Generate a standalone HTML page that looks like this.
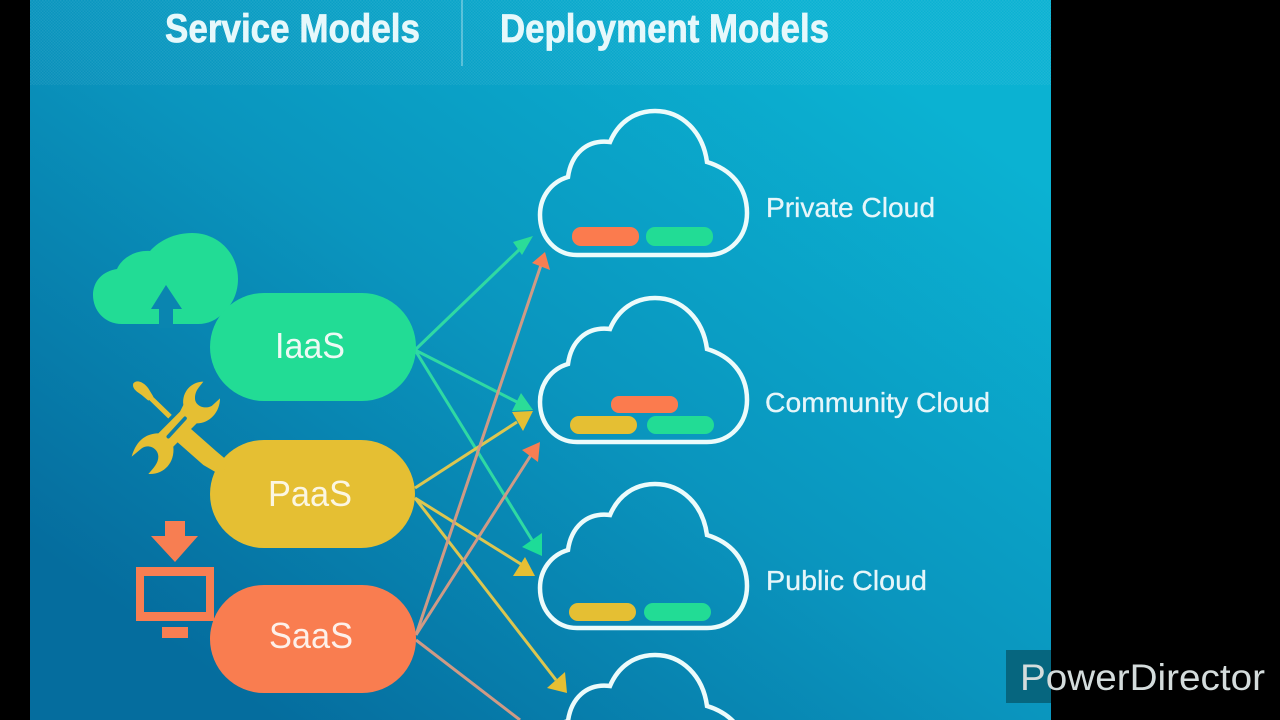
<!DOCTYPE html>
<html>
<head>
<meta charset="utf-8">
<style>
html,body{margin:0;padding:0;background:#000;width:1280px;height:720px;overflow:hidden}
svg{display:block}
text{font-family:"Liberation Sans",sans-serif}
</style>
</head>
<body>
<svg width="1280" height="720" viewBox="0 0 1280 720">
<defs>
<linearGradient id="bg" gradientUnits="userSpaceOnUse" x1="850" y1="40" x2="330" y2="760">
<stop offset="0" stop-color="#0bb2d2"/>
<stop offset="0.5" stop-color="#0a95be"/>
<stop offset="1" stop-color="#056d9e"/>
</linearGradient>
<pattern id="dots" width="3" height="3" patternUnits="userSpaceOnUse">
<rect width="1.5" height="1.5" fill="#fff" opacity="0.07"/>
<rect x="1.5" y="1.5" width="1.5" height="1.5" fill="#fff" opacity="0.07"/>
</pattern>
<path id="c" d="M577 255H707C731 255 747 236 747 213C747 186 730 169 707 162C703 132 682 111 655 111C634 111 618 123 610 142C586 139 571 155 568 177C551 182 540 197 540 215C540 238 556 255 577 255Z" fill="none" stroke="#ecfbfb" stroke-width="4.5"/>
</defs>
<rect x="30" y="0" width="1021" height="720" fill="url(#bg)"/>
<rect x="30" y="0" width="1021" height="85" fill="url(#dots)"/>
<rect x="461" y="0" width="2" height="66" fill="#fff" opacity="0.3"/>
<text x="165" y="42" font-size="40" font-weight="700" fill="#e6f8fb" stroke="#e6f8fb" stroke-width="0.7" textLength="255" lengthAdjust="spacingAndGlyphs">Service Models</text>
<text x="500" y="42" font-size="40" font-weight="700" fill="#e6f8fb" stroke="#e6f8fb" stroke-width="0.7" textLength="329" lengthAdjust="spacingAndGlyphs">Deployment Models</text>

<use href="#c"/>
<use href="#c" y="187"/>
<use href="#c" y="373"/>
<use href="#c" y="544"/>

<rect x="572" y="227" width="67" height="19" rx="9" fill="#fb7b4e"/>
<rect x="646" y="227" width="67" height="19" rx="9" fill="#22dc95"/>
<rect x="611" y="396" width="67" height="17" rx="8" fill="#fb7b4e"/>
<rect x="570" y="416" width="67" height="18" rx="9" fill="#e5bf33"/>
<rect x="647" y="416" width="67" height="18" rx="9" fill="#22dc95"/>
<rect x="569" y="603" width="67" height="18" rx="9" fill="#e5bf33"/>
<rect x="644" y="603" width="67" height="18" rx="9" fill="#22dc95"/>

<text x="766" y="217" font-size="28" fill="#e6f6fa" stroke="#e6f6fa" stroke-width="0.3" textLength="169" lengthAdjust="spacingAndGlyphs">Private Cloud</text>
<text x="765" y="412" font-size="28" fill="#e6f6fa" stroke="#e6f6fa" stroke-width="0.3" textLength="225" lengthAdjust="spacingAndGlyphs">Community Cloud</text>
<text x="766" y="590" font-size="28" fill="#e6f6fa" stroke="#e6f6fa" stroke-width="0.3" textLength="161" lengthAdjust="spacingAndGlyphs">Public Cloud</text>

<!-- connectors -->
<g fill="none" stroke-width="3">
<g stroke="#2fd9a3">
<path d="M415 350L522 247"/>
<path d="M415 350L517 402"/>
<path d="M415 350L532 540"/>
</g>
<g stroke="#dcc650">
<path d="M415 488L517 422"/>
<path d="M415 498L524 566"/>
<path d="M415 498L556 680"/>
</g>
<g stroke="#cf9a85">
<path d="M416 635L541 265"/>
<path d="M416 635L531 455"/>
<path d="M416 640L520 720"/>
</g>
</g>
<path d="M533 236L513 242L522 255Z" fill="#2bdc98"/>
<path d="M521 393L533 410L512 411Z" fill="#2bdc98"/>
<path d="M542 533L522 547L542 556Z" fill="#1ddc98"/>
<path d="M512 412L533 411L523 431Z" fill="#e5bf33"/>
<path d="M525 557L513 576L535 576Z" fill="#e5bf33"/>
<path d="M565 672L547 688L567 693Z" fill="#e5bf33"/>
<path d="M545 252L532 263L550 270Z" fill="#f77e52"/>
<path d="M540 442L522 450L538 462Z" fill="#f77e52"/>

<!-- IaaS icon -->
<path d="M122 324C104 324 93 310 93 295C93 281 103 271 117 269C122 258 135 250 150 251C160 240 175 233 192 233C218 233 238 253 238 279C238 292 233 304 224 312C217 320 208 324 198 324Z" fill="#22dc95"/>
<path d="M159 328V309H151L166 285L182 309H173V328Z" fill="#0a85b0"/>

<!-- pills -->
<rect x="210" y="293" width="206" height="108" rx="54" fill="#22dc95"/>
<rect x="210" y="440" width="205" height="108" rx="54" fill="#e5bf33"/>
<rect x="210" y="585" width="206" height="108" rx="54" fill="#f97d50"/>
<text x="275" y="358" font-size="36" fill="#eef9f4" textLength="70" lengthAdjust="spacingAndGlyphs">IaaS</text>
<text x="268" y="506" font-size="36" fill="#fbf6e2" textLength="84" lengthAdjust="spacingAndGlyphs">PaaS</text>
<text x="269" y="648" font-size="36" fill="#fdf0ea" textLength="84" lengthAdjust="spacingAndGlyphs">SaaS</text>

<!-- tools icon -->
<g transform="translate(120 370) scale(.33333)" fill="#e5bf33">
<path d="M40 40C50 28 70 35 85 55L100 80L85 92L65 75C50 65 35 55 40 40Z"/>
<path d="M90 82L150 140" stroke="#e5bf33" stroke-width="15" fill="none"/>
<path d="M165 210L205 170L290 245L320 270L310 320L250 285Z"/>
<path d="M250 35C215 35 185 65 190 105L180 125L115 190C85 190 50 205 35 260L65 235C85 220 115 235 115 260C115 280 100 295 85 312C130 315 165 280 160 230L230 160C270 160 300 125 300 85L275 108C250 120 225 105 225 85C225 60 240 50 250 35Z"/>
<path d="M145 200L195 145" stroke="#0d7fa8" stroke-width="11" stroke-linecap="round" fill="none"/>
</g>

<!-- SaaS icon -->
<path d="M165 521H185V536H198L175 562L151 536H165Z" fill="#f77e52"/>
<path fill-rule="evenodd" d="M136 567H214V621H136ZM144 576V612H206V576Z" fill="#f77e52"/>
<rect x="162" y="627" width="26" height="11" fill="#f77e52"/>

<!-- Watermark -->
<rect x="1006" y="650" width="45" height="53" fill="#06667f"/>
<text x="1020" y="690" font-size="37" fill="#d4dcdc" textLength="245" lengthAdjust="spacingAndGlyphs">PowerDirector</text>
</svg>
</body>
</html>
